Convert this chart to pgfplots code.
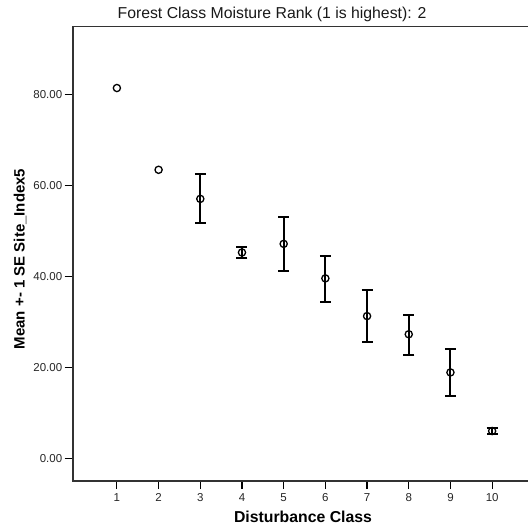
\documentclass[border=0pt]{standalone}
\usepackage{pgfplots}
\pgfplotsset{compat=1.18}
\usepackage{fontspec}
\setmainfont{Liberation Sans}

\begin{document}
\begin{tikzpicture}[x=1bp,y=1bp]
\begin{axis}[
  name=ax,
  at={(72.7bp,48bp)}, anchor=south west,
  scale only axis,
  width=455.3bp, height=454.3bp,
  xmin=-0.06, xmax=10.86,
  ymin=-5, ymax=95,
  clip=false,
  axis line style={draw=none},
  xtick={1,...,10},
  ytick={0,20,40,60,80},
  xtick pos=bottom, ytick pos=left,
  tick align=outside,
  major tick length=8bp,
  every tick/.style={black, line width=1.2bp},
  /pgf/number format/assume math mode=true,
  yticklabel={\pgfmathprintnumber[fixed,fixed zerofill,precision=2]{\tick}},
  tick label style={font=\fontsize{11.5bp}{13bp}\selectfont, text=black!85},
  yticklabel style={xshift=1bp},
  xticklabel style={yshift=-1bp},
]
  % plot frame: left, top and bottom sides
  \draw[line width=1.6bp, black!80] (rel axis cs:1,1) -- (rel axis cs:0,1) -- (rel axis cs:0,0) -- (rel axis cs:1,0);

  % classes with a single site: mean only
  \addplot[only marks, mark=o, mark size=3.6bp, mark options={line width=1.3bp, black}]
    coordinates {(1,81.5) (2,63.5)};

  % remaining classes: mean +- 1 SE
  \addplot[only marks, mark=o, mark size=3.6bp, mark options={line width=1.3bp, black},
    error bars/.cd, y dir=both, y explicit,
    error bar style={line width=2bp, black},
    error mark options={rotate=90, line width=2bp, mark size=5.5bp, black}]
    table[x=x, y=y, y error plus=ep, y error minus=em] {
x  y     ep   em
3  57.1  5.4  5.3
4  45.3  1.3  1.3
5  47.2  5.9  5.9
6  39.6  5.0  5.1
7  31.3  5.8  5.7
8  27.3  4.3  4.6
9  18.9  5.2  5.1
10 6.0   0.6  0.6
};
\end{axis}

\node[font=\fontsize{15.8bp}{17bp}\selectfont, text=black!90] at (272bp,515bp) {Forest Class Moisture Rank (1 is highest): 2};
\node[font=\fontsize{15.8bp}{17bp}\selectfont\bfseries] at (303bp,12bp) {Disturbance Class};
\node[font=\fontsize{15bp}{17bp}\selectfont\bfseries, rotate=90] at (20bp,270bp) {Mean +- 1 SE Site\_Index5};

\pgfresetboundingbox
\path (0,0) rectangle (528bp,529bp);
\end{tikzpicture}
\end{document}
